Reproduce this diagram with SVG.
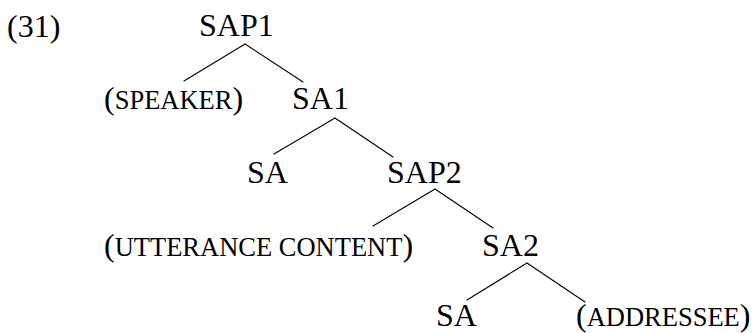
<svg xmlns="http://www.w3.org/2000/svg" width="754" height="333" viewBox="0 0 754 333">
  <style>
    text { font-family: "Liberation Serif", "Times New Roman", serif; font-size: 32px; fill: #000; }
    .sc { font-size: 26.5px; }
    .edge { stroke: #000; stroke-width: 1.1; fill: none; stroke-linecap: round; }
  </style>
  <rect width="754" height="333" fill="#fff"/>

  <g id="example-number"><text x="7" y="37">(31)</text></g>

  <g id="connectors">
    <line class="edge" x1="245" y1="44" x2="184" y2="81"/>
    <line class="edge" x1="245" y1="44" x2="303" y2="82"/>
    <line class="edge" x1="335" y1="118" x2="274" y2="154"/>
    <line class="edge" x1="335" y1="118" x2="393" y2="157"/>
    <line class="edge" x1="435" y1="189" x2="373" y2="226"/>
    <line class="edge" x1="435" y1="189" x2="493" y2="228"/>
    <line class="edge" x1="527" y1="263" x2="467" y2="300"/>
    <line class="edge" x1="527" y1="263" x2="585" y2="302"/>
  </g>

  <g id="sap1"><text x="199" y="36">SAP1</text></g>
  <g id="speaker"><text x="104" y="109">(<tspan class="sc">SPEAKER</tspan>)</text></g>
  <g id="sa1"><text x="292" y="109">SA1</text></g>
  <g id="sa-left"><text x="247" y="183">SA</text></g>
  <g id="sap2"><text x="387" y="183">SAP2</text></g>
  <g id="utterance-content"><text x="104" y="256">(<tspan class="sc">UTTERANCE CONTENT</tspan>)</text></g>
  <g id="sa2"><text x="482" y="256">SA2</text></g>
  <g id="sa-bottom"><text x="436" y="326">SA</text></g>
  <g id="addressee"><text x="576" y="326">(<tspan class="sc">ADDRESSEE</tspan>)</text></g>
</svg>
